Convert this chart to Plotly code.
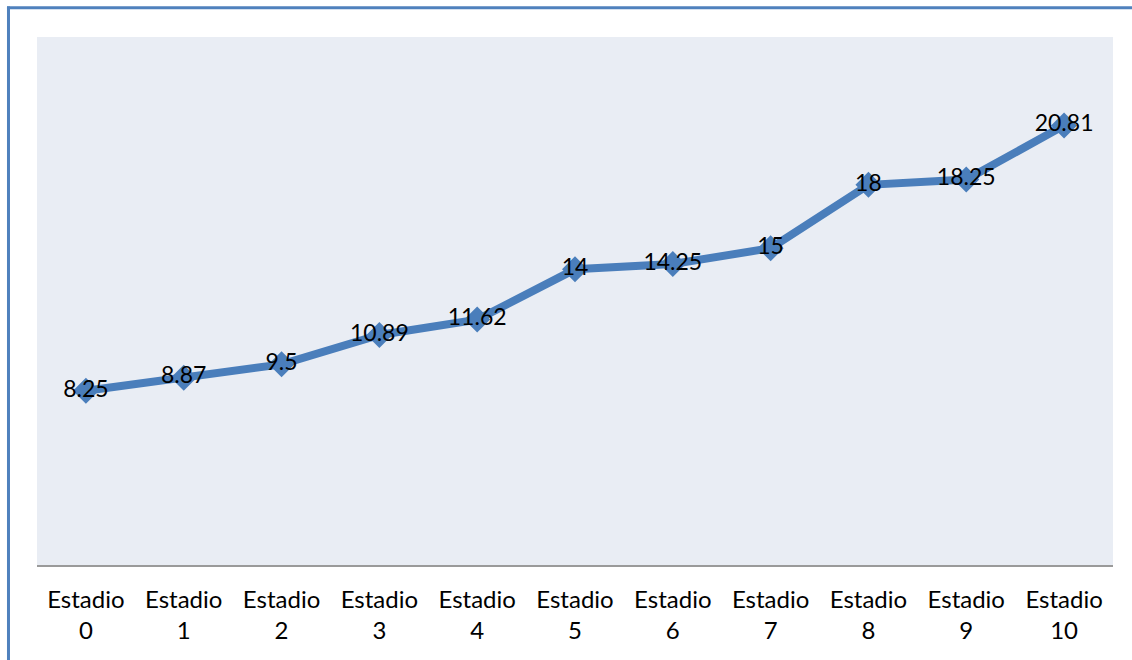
import plotly.graph_objects as go

categories = ["Estadio<br>0", "Estadio<br>1", "Estadio<br>2", "Estadio<br>3", "Estadio<br>4",
              "Estadio<br>5", "Estadio<br>6", "Estadio<br>7", "Estadio<br>8", "Estadio<br>9",
              "Estadio<br>10"]
values = [8.25, 8.87, 9.5, 10.89, 11.62, 14, 14.25, 15, 18, 18.25, 20.81]
labels = ["8.25", "8.87", "9.5", "10.89", "11.62", "14", "14.25", "15", "18", "18.25", "20.81"]

fig = go.Figure()
fig.add_trace(go.Scatter(
    x=categories, y=values, mode="lines+markers+text",
    line=dict(color="#4a7ebb", width=8),
    marker=dict(symbol="diamond", size=20, color="#4a7ebb"),
    text=labels, textposition="middle center",
    textfont=dict(family="Lato, Noto Sans, sans-serif", size=23, color="#000000"),
    cliponaxis=False,
))

border = dict(color="#4f81bd", width=3)
fig.update_layout(
    width=1132, height=660,
    margin=dict(l=37, r=19, t=37, b=95),
    paper_bgcolor="#ffffff",
    plot_bgcolor="#e9edf4",
    showlegend=False,
    font=dict(family="Lato, Noto Sans, sans-serif", size=24, color="#000000"),
    xaxis=dict(type="category", range=[-0.5, 10.5], showgrid=False, showline=True,
               linecolor="#9a9a9a", linewidth=2, ticks="", zeroline=False,
               ticklabelstandoff=12,
               tickfont=dict(size=24, color="#000000")),
    yaxis=dict(range=[0, 25], showgrid=False, showticklabels=False, zeroline=False,
               showline=False, ticks=""),
    shapes=[
        dict(type="line", xref="paper", yref="paper",
             x0=-0.0279, x1=1.2, y0=1.0555, y1=1.0555, line=border, layer="below"),
        dict(type="line", xref="paper", yref="paper",
             x0=-0.0265, x1=-0.0265, y0=-0.4, y1=1.058, line=border, layer="below"),
    ],
)

fig.write_html("out.html")
